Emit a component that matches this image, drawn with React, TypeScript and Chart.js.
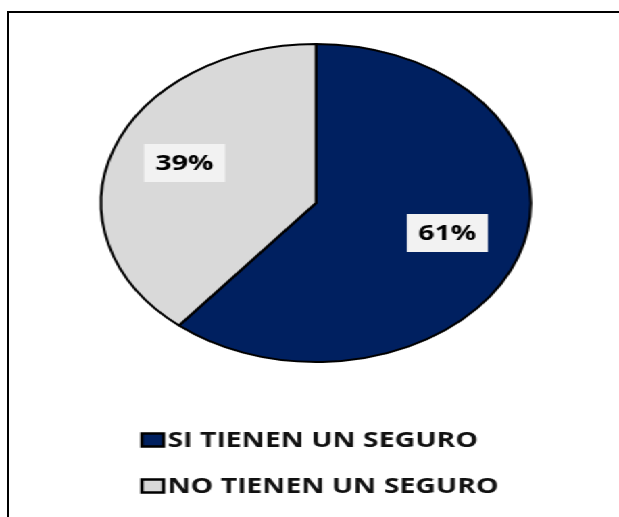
import { useEffect, useRef } from "react";
import { Chart, registerables } from "chart.js";

Chart.register(...registerables);

const categories = ["SI TIENEN UN SEGURO", "NO TIENEN UN SEGURO"];
const values = [61, 39];
const valueLabels = ["61%", "39%"];
const colors = ["#002060", "#D9D9D9"];

const LOGICAL_W = 458;
const H = 517;
const PAGE_W = 619;
const SX = PAGE_W / LOGICAL_W;

export default function App() {
  const ref = useRef<HTMLCanvasElement>(null);

  useEffect(() => {
    document.documentElement.style.overflow = "hidden";
    document.body.style.overflow = "hidden";
    const canvas = ref.current;
    if (!canvas) return;

    const labelPlugin = {
      id: "sliceLabels",
      afterDatasetsDraw(chart: any) {
        const ctx = chart.ctx;
        const meta = chart.getDatasetMeta(0);
        ctx.save();
        ctx.font = "bold 21px 'Open Sans'";
        ctx.textAlign = "center";
        ctx.textBaseline = "middle";
        meta.data.forEach((arc: any, i: number) => {
          const p = arc.getProps(["x", "y", "startAngle", "endAngle", "outerRadius"], true);
          const mid = (p.startAngle + p.endAngle) / 2;
          const r = p.outerRadius * 0.65;
          const x = p.x + Math.cos(mid) * r;
          const y = p.y + Math.sin(mid) * r - 5;
          const text = valueLabels[i];
          const w = ctx.measureText(text).width + 17;
          const h = 38;
          ctx.fillStyle = "#F2F2F2";
          ctx.fillRect(x - w / 2, y - h / 2, w, h);
          ctx.fillStyle = "#000";
          ctx.fillText(text, x, y + 1);
        });
        ctx.restore();
      },
    };

    const legendPlugin = {
      id: "customLegend",
      afterDraw(chart: any) {
        const ctx = chart.ctx;
        const rows = [440, 486];
        ctx.save();
        ctx.font = "bold 21px 'Open Sans'";
        ctx.textAlign = "left";
        ctx.textBaseline = "middle";
        chart.data.labels.forEach((label: string, i: number) => {
          const cy = rows[i];
          ctx.fillStyle = chart.data.datasets[0].backgroundColor[i];
          ctx.fillRect(105, cy - 6.5, 16, 13);
          ctx.lineWidth = 2.5;
          ctx.strokeStyle = "#000";
          ctx.strokeRect(105, cy - 6.5, 16, 13);
          ctx.fillStyle = "#111";
          ctx.fillText(label, 124, cy + 1);
        });
        ctx.restore();
      },
    };

    const chart = new Chart(canvas, {
      type: "pie",
      data: {
        labels: categories,
        datasets: [
          {
            data: values,
            backgroundColor: colors,
            borderColor: "#000",
            borderWidth: 2,
          },
        ],
      },
      options: {
        responsive: false,
        maintainAspectRatio: false,
        animation: false,
        layout: {
          padding: { left: 73.8, right: 64.2, top: 43, bottom: 154 },
        },
        plugins: {
          legend: { display: false },
          tooltip: { enabled: false },
        },
      },
      plugins: [labelPlugin, legendPlugin],
    });
    return () => chart.destroy();
  }, []);

  return (
    <>
      <div
        style={{
          position: "absolute",
          left: 0,
          top: 0,
          width: LOGICAL_W,
          height: H,
          transform: `scaleX(${SX})`,
          transformOrigin: "0 0",
          background: "#fff",
        }}
      >
        <canvas
          ref={ref}
          width={LOGICAL_W}
          height={H}
          style={{ width: LOGICAL_W + "px", height: H + "px", display: "block" }}
        />
      </div>
      <div
        style={{
          position: "absolute",
          left: 7,
          top: 11,
          width: PAGE_W - 9,
          height: H - 13,
          borderLeft: "2px solid #000",
          borderTop: "2px solid #000",
          pointerEvents: "none",
        }}
      />
    </>
  );
}
